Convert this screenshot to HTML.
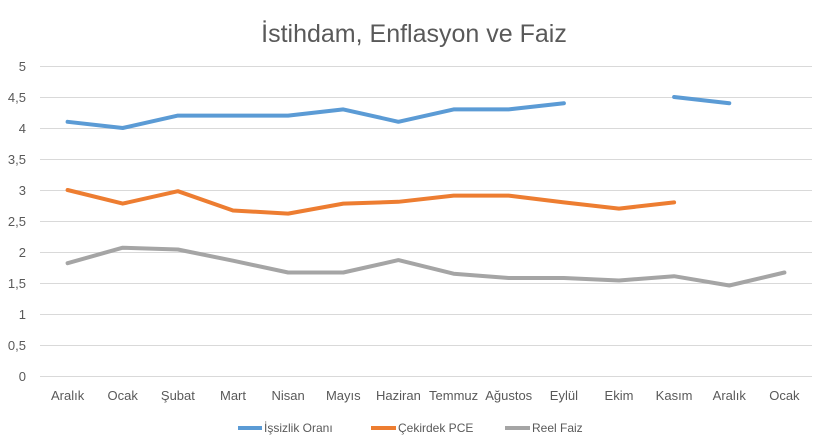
<!DOCTYPE html>
<html><head><meta charset="utf-8"><style>body{margin:0;background:#fff}svg{display:block}text{font-family:"Liberation Sans",sans-serif;fill:#595959}</style></head><body>
<svg width="827" height="448" xmlns="http://www.w3.org/2000/svg">
<rect width="827" height="448" fill="#fff"/>
<text x="414" y="42" font-size="25" text-anchor="middle">İstihdam, Enflasyon ve Faiz</text>
<g stroke="#d9d9d9" stroke-width="1">
<line x1="40" x2="812" y1="66.5" y2="66.5"/><line x1="40" x2="812" y1="97.5" y2="97.5"/><line x1="40" x2="812" y1="128.5" y2="128.5"/><line x1="40" x2="812" y1="159.5" y2="159.5"/><line x1="40" x2="812" y1="190.5" y2="190.5"/><line x1="40" x2="812" y1="221.5" y2="221.5"/><line x1="40" x2="812" y1="252.5" y2="252.5"/><line x1="40" x2="812" y1="283.5" y2="283.5"/><line x1="40" x2="812" y1="314.5" y2="314.5"/><line x1="40" x2="812" y1="345.5" y2="345.5"/><line x1="40" x2="812" y1="376.5" y2="376.5"/>
</g>
<g font-size="13" text-anchor="end">
<text x="26" y="71">5</text><text x="26" y="102">4,5</text><text x="26" y="133">4</text><text x="26" y="164">3,5</text><text x="26" y="195">3</text><text x="26" y="226">2,5</text><text x="26" y="257">2</text><text x="26" y="288">1,5</text><text x="26" y="319">1</text><text x="26" y="350">0,5</text><text x="26" y="381">0</text>
</g>
<g font-size="13" text-anchor="middle">
<text x="67.6" y="400">Aralık</text><text x="122.7" y="400">Ocak</text><text x="177.9" y="400">Şubat</text><text x="233" y="400">Mart</text><text x="288.1" y="400">Nisan</text><text x="343.3" y="400">Mayıs</text><text x="398.4" y="400">Haziran</text><text x="453.6" y="400">Temmuz</text><text x="508.7" y="400">Ağustos</text><text x="563.9" y="400">Eylül</text><text x="619" y="400">Ekim</text><text x="674.1" y="400">Kasım</text><text x="729.3" y="400">Aralık</text><text x="784.4" y="400">Ocak</text>
</g>
<g fill="none" stroke-width="4" stroke-linejoin="round" stroke-linecap="round">
<polyline stroke="#5b9bd5" points="67.6,121.8 122.7,128 177.9,115.6 233,115.6 288.1,115.6 343.3,109.4 398.4,121.8 453.6,109.4 508.7,109.4 563.9,103.2"/>
<polyline stroke="#5b9bd5" points="674.1,97 729.3,103.2"/>
<polyline stroke="#ed7d31" points="67.6,190 122.7,203.6 177.9,191.2 233,210.5 288.1,213.6 343.3,203.6 398.4,201.8 453.6,195.6 508.7,195.6 563.9,202.4 619,208.6 674.1,202.4"/>
<polyline stroke="#a5a5a5" points="67.6,263.2 122.7,247.7 177.9,249.5 233,260.7 288.1,272.5 343.3,272.5 398.4,260.1 453.6,273.7 508.7,278 563.9,278 619,280.5 674.1,276.2 729.3,285.5 784.4,272.5"/>
</g>
<g stroke-width="4"><line x1="238" x2="262" y1="428" y2="428" stroke="#5b9bd5"/><line x1="371" x2="396" y1="428" y2="428" stroke="#ed7d31"/><line x1="505" x2="530" y1="428" y2="428" stroke="#a5a5a5"/></g>
<g font-size="12"><text x="264" y="432">İşsizlik Oranı</text><text x="398" y="432">Çekirdek PCE</text><text x="532" y="432">Reel Faiz</text></g>
</svg>
</body></html>
